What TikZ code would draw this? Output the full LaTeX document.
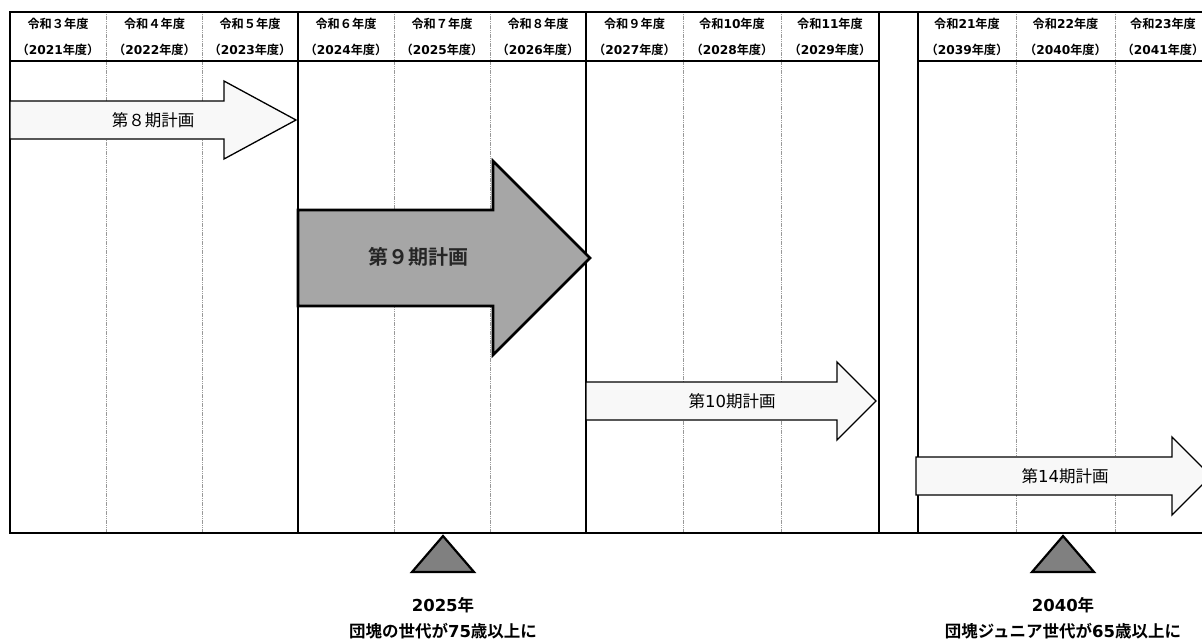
\documentclass[tikz,border=0pt]{standalone}
\usepackage{fontspec}
\setmainfont{Noto Sans CJK JP}[BoldFont={Noto Sans CJK JP Bold}]
\newfontfamily\latfont{DejaVu Sans}
\newcommand\dg[1]{{\latfont #1}}
\definecolor{lightfill}{HTML}{F8F8F8}
\definecolor{midfill}{HTML}{A6A6A6}
\definecolor{trifill}{HTML}{808080}
\tikzset{
  thickline/.style={line width=2.2pt},
  thinline/.style={line width=0.8pt, gray!80, dash pattern=on 1.2pt off 0.6pt},
  hdr/.style={font=\bfseries\fontsize{12.2}{14}\selectfont, inner sep=0pt},
  lightarrow/.style={draw=black, fill=lightfill, line width=1.3pt, line join=miter},
  mainarrow/.style={draw=black, fill=midfill, line width=2.6pt, line join=miter},
  arrowtext/.style={font=\fontsize{16.5}{18}\selectfont, inner sep=0pt},
  maintext/.style={font=\bfseries\fontsize{20}{22}\selectfont, text=black!85, inner sep=0pt},
  marker/.style={draw=black, fill=trifill, line width=2.2pt, line join=miter},
  bottomtext/.style={font=\bfseries\fontsize{16.5}{18}\selectfont, inner sep=0pt}
}
\begin{document}
\begin{tikzpicture}[x=1pt, y=-1pt]
\useasboundingbox (0,0) rectangle (1202,641);
% grid
\foreach \x in {106.5,202.5,394,490,683,781,1016,1115}
  \draw[thinline] (\x,12) -- (\x,533);
\foreach \x in {10,298,586,879,918}
  \draw[thickline] (\x,12) -- (\x,533);
\draw[thickline] (9,12) -- (1210,12);
\draw[thickline] (9,61) -- (879,61);
\draw[thickline] (918,61) -- (1210,61);
\draw[thickline] (9,533) -- (1210,533);
% header
\foreach \cx/\a/\b [count=\i] in {
  58/令和３年度/（\dg{2021}年度）,
  154.5/令和４年度/（\dg{2022}年度）,
  250/令和５年度/（\dg{2023}年度）,
  346/令和６年度/（\dg{2024}年度）,
  442/令和７年度/（\dg{2025}年度）,
  538/令和８年度/（\dg{2026}年度）,
  634.5/令和９年度/（\dg{2027}年度）,
  732/令和\dg{10}年度/（\dg{2028}年度）,
  830/令和\dg{11}年度/（\dg{2029}年度）,
  967/令和\dg{21}年度/（\dg{2039}年度）,
  1065.5/令和\dg{22}年度/（\dg{2040}年度）,
  1163/令和\dg{23}年度/（\dg{2041}年度）}
{
  \node[hdr] (ha\i) at (\cx,24) {\a};
  \node[hdr] (hb\i) at (\cx,50) {\b};
}
% arrows
\draw[lightarrow] (10,101) -- (224,101) -- (224,81) -- (296,120) -- (224,159) -- (224,139) -- (10,139) -- cycle;
\node[arrowtext] (p8) at (153,120) {第８期計画};
\draw[mainarrow] (298,210) -- (493,210) -- (493,161) -- (590,258) -- (493,355) -- (493,306) -- (298,306) -- cycle;
\node[maintext] (p9) at (418,257) {第９期計画};
\draw[lightarrow] (586,382) -- (837,382) -- (837,362) -- (876,401) -- (837,440) -- (837,420) -- (586,420) -- cycle;
\node[arrowtext] (p10) at (732,401) {第\dg{10}期計画};
\draw[lightarrow] (916,457) -- (1172,457) -- (1172,437) -- (1211,476) -- (1172,515) -- (1172,495) -- (916,495) -- cycle;
\node[arrowtext] (p14) at (1065,476) {第\dg{14}期計画};
% markers
\draw[marker] (443,536) -- (474,572) -- (412,572) -- cycle;
\draw[marker] (1063,536) -- (1094,572) -- (1032,572) -- cycle;
\node[bottomtext] (y1) at (443,605) {\dg{2025}年};
\node[bottomtext] (d1) at (443,631) {団塊の世代が\dg{75}歳以上に};
\node[bottomtext] (y2) at (1063,605) {\dg{2040}年};
\node[bottomtext] (d2) at (1063,631) {団塊ジュニア世代が\dg{65}歳以上に};
\end{tikzpicture}
\end{document}
